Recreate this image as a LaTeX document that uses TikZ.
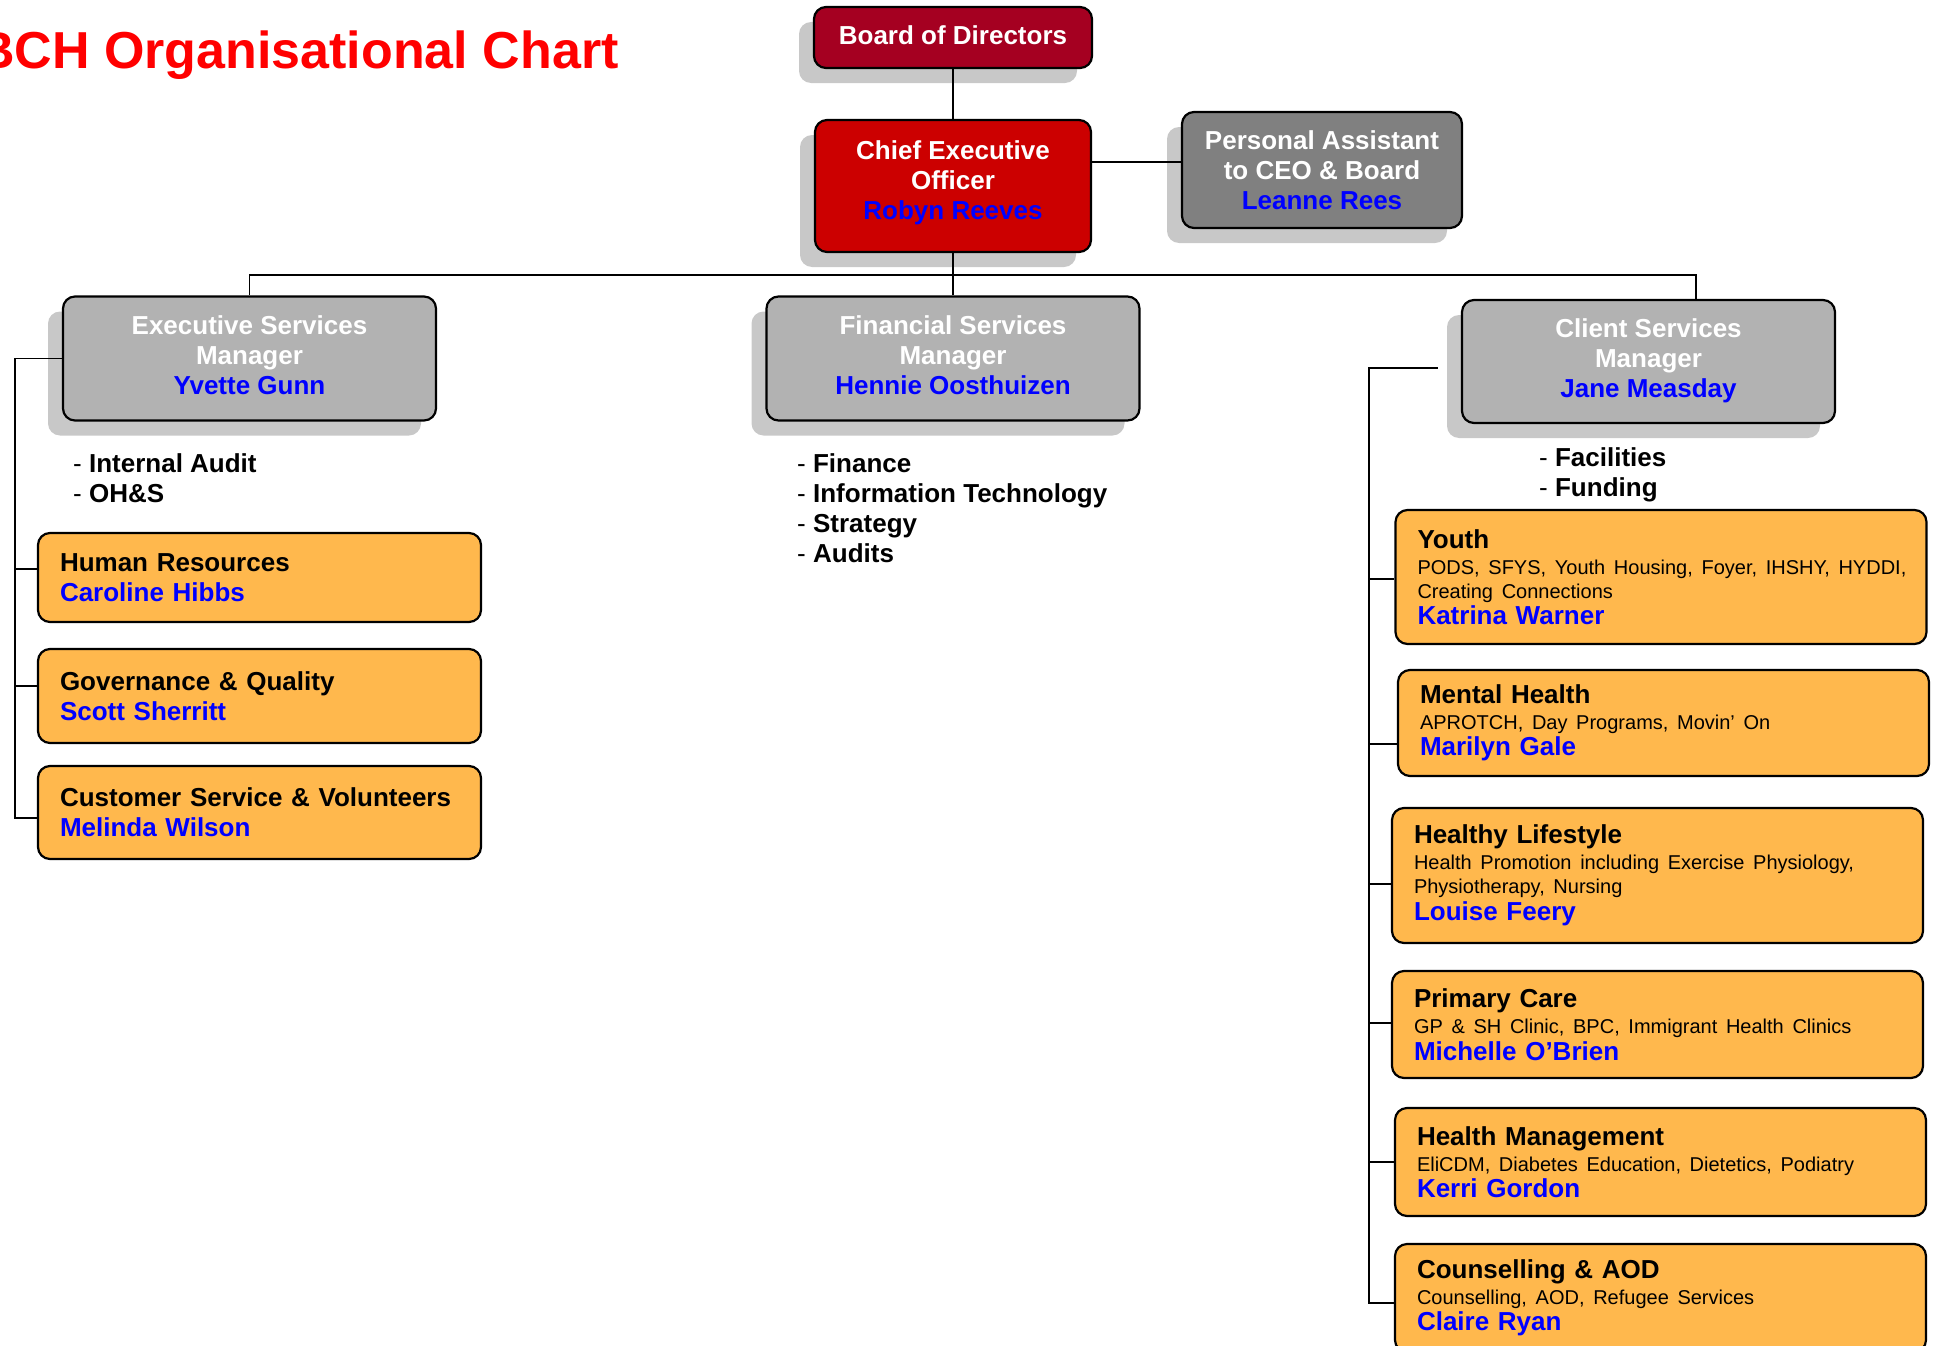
\documentclass[tikz,border=0pt]{standalone}
\usepackage{fontspec}
\setmainfont{Liberation Sans}
\usepackage{xcolor}
\usetikzlibrary{shadows}
\definecolor{boardred}{HTML}{A50021}
\definecolor{ceored}{HTML}{CC0000}
\definecolor{pagray}{HTML}{808080}
\definecolor{mgrgray}{HTML}{B2B2B2}
\definecolor{unitorange}{HTML}{FFB84D}
\definecolor{nameblue}{HTML}{0000FF}
\definecolor{titlered}{HTML}{FF0000}
\definecolor{shadowgray}{HTML}{C8C8C8}
\setlength\parindent{0pt}
\hyphenpenalty=10000
\newcommand\who[1]{\textcolor{nameblue}{#1}}
\newcommand\subfont{\fontsize{20}{24}\selectfont\mdseries}
\tikzset{
  orgtitle/.style   = {anchor=base west, inner sep=0pt, text=titlered,
                       font=\fontsize{52}{60}\selectfont\bfseries},
  orgtop/.style     = {rectangle, rounded corners=12pt, draw=black, line width=2.2pt,
                       align=center, text=white, inner sep=4pt,
                       font=\fontsize{26}{30}\selectfont\bfseries,
                       drop shadow={shadow xshift=-15pt, shadow yshift=-15pt,
                                    fill=shadowgray, opacity=1}},
  orgmgr/.style     = {orgtop, fill=mgrgray, minimum width=373pt, minimum height=124pt,
                       text depth=6pt},
  orgunit/.style    = {rectangle, rounded corners=12pt, draw=black, line width=2.2pt,
                       fill=unitorange, align=left, text width=399pt,
                       inner xsep=22pt, inner ysep=4pt,
                       font=\fontsize{26}{30}\selectfont\bfseries},
  orgservice/.style = {orgunit, text width=487pt,
                       font=\fontsize{26}{26.5}\selectfont\bfseries},
  orglist/.style    = {anchor=north west, align=left, inner sep=0pt,
                       font=\fontsize{26}{30}\selectfont\bfseries},
  orgline/.style    = {draw=black, line width=1.8pt},
}
\begin{document}
\begin{tikzpicture}[x=1pt,y=-1pt]
  \useasboundingbox (0,0) rectangle (1935,1346);
  \node[orgtitle] (title) at (-23,68) {BCH Organisational Chart};

  % top of the chart
  \node[orgtop, fill=boardred, minimum width=278pt, minimum height=61pt, text depth=5pt] (bod) at (953,37.5) {Board of Directors};
  \node[orgtop, fill=ceored, minimum width=276pt, minimum height=132pt, text depth=11pt] (ceo) at (953,186) {Chief Executive\\Officer\\\who{Robyn Reeves}};
  \node[orgtop, fill=pagray, minimum width=280pt, minimum height=116pt] (pa) at (1322,170) {Personal Assistant\\to CEO \& Board\\\who{Leanne Rees}};

  % managers
  \node[orgmgr] (esm) at (249.5,358.5) {Executive Services\\Manager\\\who{Yvette Gunn}};
  \node[orgmgr] (fsm) at (953,358.5) {Financial Services\\Manager\\\who{Hennie Oosthuizen}};
  \node[orgmgr, minimum height=123pt] (csm) at (1648.5,361.5) {Client Services\\Manager\\\who{Jane Measday}};

  \node[orglist] (esmlist) at (73,453) {{\mdseries -} Internal Audit\\{\mdseries -} OH\&S};
  \node[orglist] (fsmlist) at (797,453) {{\mdseries -} Finance\\{\mdseries -} Information Technology\\{\mdseries -} Strategy\\{\mdseries -} Audits};
  \node[orglist] (csmlist) at (1539,447) {{\mdseries -} Facilities\\{\mdseries -} Funding};

  % executive services units
  \node[orgunit, minimum height=89pt] (hr)  at (259.5,577.5) {Human Resources\\\who{Caroline Hibbs}};
  \node[orgunit, minimum height=94pt] (gq)  at (259.5,696)   {Governance \& Quality\\\who{Scott Sherritt}};
  \node[orgunit, minimum height=93pt] (csv) at (259.5,812.5) {Customer Service \& Volunteers\\\who{Melinda Wilson}};

  % client services units
  \node[orgservice, minimum height=134pt] (youth) at (1661,577) {{Youth\par}\vskip2pt
    {\subfont\mbox{PODS, SFYS, Youth Housing, Foyer, IHSHY, HYDDI,}\\Creating Connections\par}\who{Katrina Warner}};
  \node[orgservice, minimum height=106pt] (mh) at (1663.5,723) {{Mental Health\par}\vskip2pt
    {\subfont APROTCH, Day Programs, Movin’ On\par}\who{Marilyn Gale}};
  \node[orgservice, minimum height=135pt] (hl) at (1657.5,875.5) {{Healthy Lifestyle\par}\vskip2pt
    {\subfont Health Promotion including Exercise Physiology,\\Physiotherapy, Nursing\par}\who{Louise Feery}};
  \node[orgservice, minimum height=107pt] (pc) at (1657.5,1024.5) {{Primary Care\par}\vskip2pt
    {\subfont GP \& SH Clinic, BPC, Immigrant Health Clinics\par}\who{Michelle O’Brien}};
  \node[orgservice, minimum height=108pt] (hm) at (1660.5,1162) {{Health Management\par}\vskip2pt
    {\subfont EliCDM, Diabetes Education, Dietetics, Podiatry\par}\who{Kerri Gordon}};
  \node[orgservice, minimum height=108pt] (caod) at (1660.5,1298) {{Counselling \& AOD\par}\vskip2pt
    {\subfont Counselling, AOD, Refugee Services\par}\who{Claire Ryan}};

  % reporting lines
  \draw[orgline] (bod) -- (ceo);
  \coordinate (patap) at ([yshift=24pt]ceo.east);
  \draw[orgline] (patap) -- (patap -| pa.west);
  \coordinate (bus) at (953,275);
  \coordinate (cstap) at ([xshift=47.5pt]csm.north);
  \draw[orgline] (ceo) -- (fsm);
  \draw[orgline] (esm) |- (bus) -| (cstap);

  \coordinate (espine) at (15,357);
  \coordinate (hrtap)  at ([yshift=8.5pt]hr.west);
  \coordinate (gqtap)  at ([yshift=10pt]gq.west);
  \coordinate (csvtap) at ([yshift=-5.5pt]csv.west);
  \foreach \u in {hrtap, gqtap}
    \draw[orgline] (\u -| espine) -- (\u);
  \draw[orgline] (esm.west) -- (esm.west -| espine) |- (csvtap);

  \coordinate (cspine) at (1369,368);
  \coordinate (csmtap)   at ([xshift=-23pt,yshift=-6.5pt]csm.west);
  \coordinate (youthtap) at ([yshift=-2pt]youth.west);
  \coordinate (mhtap)    at ([yshift=-21pt]mh.west);
  \coordinate (hltap)    at ([yshift=-8.5pt]hl.west);
  \coordinate (pctap)    at ([yshift=1.5pt]pc.west);
  \coordinate (hmtap)    at (hm.west);
  \coordinate (caodtap)  at ([yshift=-5pt]caod.west);
  \foreach \u in {youthtap, mhtap, hltap, pctap, hmtap}
    \draw[orgline] (\u -| cspine) -- (\u);
  \draw[orgline] (csmtap) -- (cspine) |- (caodtap);
\end{tikzpicture}
\end{document}
